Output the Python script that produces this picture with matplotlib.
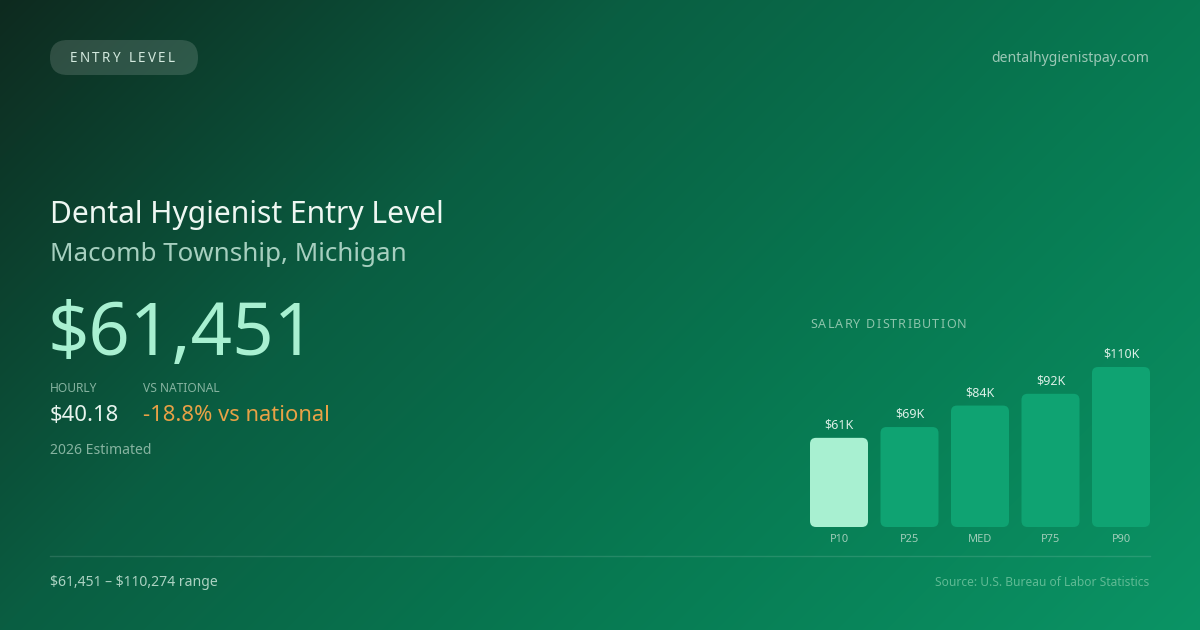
import numpy as np
import matplotlib
matplotlib.use('Agg')
import matplotlib.pyplot as plt
from matplotlib.patches import FancyBboxPatch
from matplotlib.font_manager import FontProperties

plt.rcParams['font.family'] = ['Noto Sans', 'DejaVu Sans']

W, H = 1200, 630

# chart data
percentiles = ['P10', 'P25', 'MED', 'P75', 'P90']
salaries = [61451, 68900, 83700, 91800, 110274]
bar_colors = ['#a8f0d1', '#0fa372', '#0fa372', '#0fa372', '#0fa372']

title = 'Dental Hygienist Entry Level'
location = 'Macomb Township, Michigan'
headline = '$61,451'
hourly = '$40.18'
vs_national = '-18.8% vs national'
range_text = r'\$61,451 – \$110,274 range'


def px(size):
    # css pixels -> points at dpi 100
    return size * 0.72


fig = plt.figure(figsize=(12, 6.3), dpi=100)
ax = fig.add_axes([0, 0, 1, 1])
ax.set_xlim(0, W)
ax.set_ylim(H, 0)
ax.axis('off')

# background gradient, darker top-left to brighter bottom-right
xx, yy = np.meshgrid(np.arange(W), np.arange(H))
t = (xx + yy) / (W + H)
stops = [0.0, 0.344, 0.656, 1.0]
rgb = np.array([[14, 42, 31], [10, 94, 66], [7, 122, 82], [11, 148, 101]]) / 255
img = np.dstack([np.interp(t, stops, rgb[:, c]) for c in range(3)])
ax.imshow(img, extent=[0, W, H, 0], aspect='auto', zorder=0)

renderer = fig.canvas.get_renderer()


def spaced_text(x, y, s, size, spacing, color, **kw):
    fp = FontProperties(family=['Noto Sans', 'DejaVu Sans'], size=px(size))
    bar_w = renderer.get_text_width_height_descent('|', fp, ismath=False)[0]
    for i, ch in enumerate(s):
        if ch == ' ':
            continue
        pre = renderer.get_text_width_height_descent(s[:i] + '|', fp, ismath=False)[0] - bar_w
        ax.text(x + pre + i * spacing, y, ch, fontproperties=fp, color=color,
                va='center', ha='left', **kw)


# pill badge
pill = FancyBboxPatch((50, 40), 148, 35, boxstyle='round,pad=0,rounding_size=17.5',
                      fc='#ffffff', alpha=0.14, ec='none', zorder=2)
ax.add_patch(pill)
spaced_text(70, 58, 'ENTRY LEVEL', 13.5, 2.3, '#d3e9de', zorder=3)

ax.text(1149, 58, 'dentalhygienistpay.com', fontsize=px(14), color='#9cc8b6',
        ha='right', va='center')

# headline block
ax.text(50, 223, title, fontsize=px(30), color='#eef7f2', va='baseline')
ax.text(50, 261, location, fontsize=px(26), color='#a6cfbf', va='baseline')
ax.text(48, 355, headline, fontsize=px(72.5), color='#a8f0d1', va='baseline')

ax.text(50, 392, 'HOURLY', fontsize=px(12), color='#86b3a0', va='baseline')
ax.text(143, 392, 'VS NATIONAL', fontsize=px(12), color='#86b3a0', va='baseline')
ax.text(50, 421, hourly, fontsize=px(22), color='#e8f4ee', va='baseline')
ax.text(143, 421, vs_national, fontsize=px(22), color='#e8a146', va='baseline')
ax.text(50, 454, '2026 Estimated', fontsize=px(14), color='#86b3a0', va='baseline')

# footer
ax.plot([50, 1150], [556, 556], color='#ffffff', alpha=0.12, lw=1)
ax.text(50, 582, range_text, fontsize=px(14), color='#acd2c2', va='center')
ax.text(1149, 582, 'Source: U.S. Bureau of Labor Statistics', fontsize=px(12),
        color='#5fba94', ha='right', va='center')

spaced_text(810, 325, 'SALARY DISTRIBUTION', 12.5, 1.2, '#8cc4ab')

# salary distribution bars
bw = 58 / 70.5
bar_left, bar_right, bar_bottom, bar_top = 810, 1150, 527, 367
bax = fig.add_axes([bar_left / W, (H - bar_bottom) / H,
                    (bar_right - bar_left) / W, (bar_bottom - bar_top) / H])
bax.patch.set_alpha(0)
pos = np.arange(len(percentiles))
bars = bax.bar(pos, salaries, width=bw, color=bar_colors)
bax.set_xlim(-bw / 2, len(percentiles) - 1 + bw / 2)
bax.set_ylim(0, max(salaries))
for s in bax.spines.values():
    s.set_visible(False)
bax.set_yticks([])
bax.set_xticks(pos, percentiles)
bax.tick_params(axis='x', length=0, pad=px(7), labelsize=px(11), labelcolor='#a0cdb9')

# round the bar corners
x_per_px = (bax.get_xlim()[1] - bax.get_xlim()[0]) / (bar_right - bar_left)
y_per_px = max(salaries) / (bar_bottom - bar_top)
radius = 6 * x_per_px
for rect, c in zip(bars, bar_colors):
    rect.set_visible(False)
    fb = FancyBboxPatch((rect.get_x(), rect.get_y()), rect.get_width(), rect.get_height(),
                        boxstyle=f'round,pad=0,rounding_size={radius}',
                        mutation_aspect=y_per_px / x_per_px, fc=c, ec='none',
                        clip_on=False)
    bax.add_patch(fb)

for p, v in zip(pos, salaries):
    bax.annotate(f'${round(v / 1000)}K', (p, v), xytext=(0, px(13)),
                 textcoords='offset points', ha='center', va='center',
                 fontsize=px(12.5), color='#dbefe6', annotation_clip=False)

fig.savefig('out.png', dpi=100)
